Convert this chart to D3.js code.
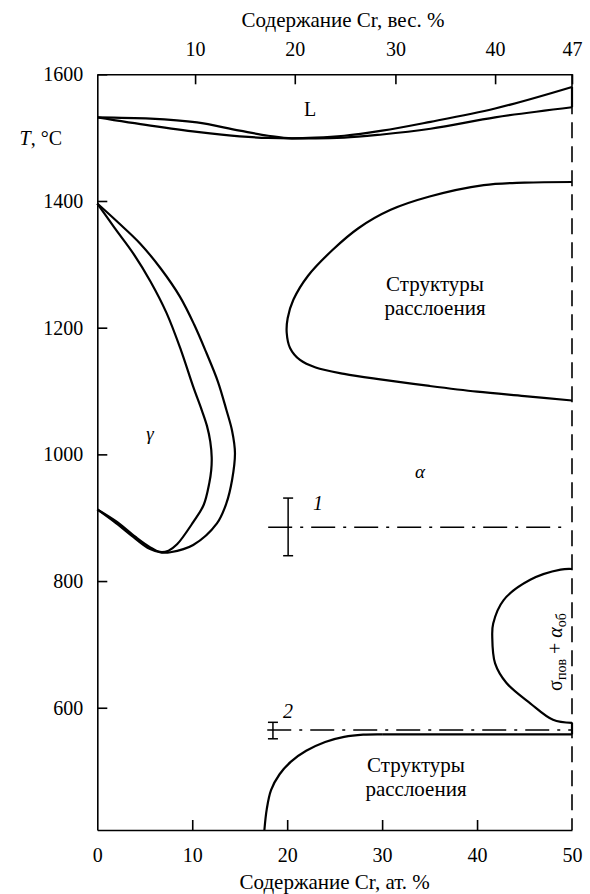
<!DOCTYPE html>
<html>
<head>
<meta charset="utf-8">
<script src="https://cdn.jsdelivr.net/npm/d3@7"></script>
<style>
  body { margin: 0; background: #fff; }
  .curve { fill: none; stroke: #000; stroke-width: 2.2; stroke-linejoin: round; }
  .axis path, .axis line { stroke: #000; stroke-width: 1.6; }
</style>
</head>
<body>
<div id="chart"></div>
<script>
// Fe-Cr diagram: x in at.% Cr, y in deg C
const FONT = "'Liberation Serif', 'Times New Roman', Times, 'DejaVu Serif', serif";

// bottom axis (at.%)
const bottomTicks = [0, 10, 20, 30, 40, 50];
// top axis (wt.%) labels and where they sit in at.%
const topTickLabels = [10, 20, 30, 40, 47];
const topTickPos = [10.3, 20.8, 31.4, 41.9, 50];
const leftTicks = [600, 800, 1000, 1200, 1400, 1600];

// curves as [at.%, T] pairs
const liquidus = [[0, 1532], [5.6, 1530], [10.5, 1524], [15, 1511], [18, 1503], [20.5, 1499],
  [23, 1500], [26, 1503], [30, 1511], [35.1, 1525], [41.9, 1546], [50, 1580]];
const solidus = [[0, 1532], [5.6, 1519], [10.5, 1509], [15, 1502], [18, 1499.5], [20.5, 1499],
  [23, 1499], [26, 1500], [30, 1505], [35.1, 1514], [41.9, 1532], [50, 1548]];
const gapUpper = [[50, 1430], [45, 1429], [40.7, 1425], [35, 1407], [30.9, 1386], [27.5, 1357],
  [24.8, 1323], [22.2, 1282], [20.65, 1244], [20.05, 1215], [19.95, 1192], [20.3, 1168],
  [21.35, 1149], [23, 1137], [26, 1127], [30, 1118], [35, 1108], [40, 1099], [45, 1092], [50, 1085]];
const gammaInner = [[0, 913], [2, 894], [4, 870], [5.5, 854], [6.6, 846], [7.5, 848], [8.4, 858],
  [10.1, 893], [11.2, 920], [11.8, 955], [12.0, 975], [12.05, 995], [11.9, 1020], [11.55, 1045],
  [11.0, 1070], [10.1, 1107], [8.8, 1165], [7.3, 1223], [5.6, 1273], [3.8, 1317], [1.8, 1358], [0, 1396]];
const gammaOuter = [[0, 913], [2, 891], [4, 867], [5.5, 851], [6.8, 845], [7.7, 845.5], [10.1, 857],
  [12.6, 891], [13.6, 923], [14.2, 960], [14.5, 1002], [14.2, 1037], [13.6, 1070], [12.7, 1115],
  [11.5, 1160], [10.2, 1205], [8.7, 1249], [6.7, 1293], [4.5, 1333], [2.2, 1366], [0, 1396]];
const sigmaLoop = [[50, 819], [48.8, 818], [45.6, 802], [42.8, 770], [41.7, 733], [41.6, 712],
  [41.9, 670], [43.1, 639], [45.6, 607], [48, 581], [50, 576]];
const gapLower = [[17.6, 407], [17.85, 440], [18.3, 470], [19.2, 495], [20.4, 515], [22, 532],
  [24, 546], [26, 554], [28, 557.5], [30, 558]];
const rightEdgeSolid = [[[50, 1548], [50, 1580]], [[50, 576], [50, 558]], [[30, 558], [50, 558]]];

// measured lines 1 and 2 with error bars
const lineLabels = ['1', '2'];
const lineT = [885, 565];
const lineFrom = [18, 17.9];
const lineTo = [49.3, 50];
const barX = [20.1, 18.5];
const barLow = [840, 551];
const barHigh = [931, 577];

const width = 590, height = 894;
const svg = d3.select('#chart').append('svg')
  .attr('width', width).attr('height', height)
  .attr('font-family', FONT);

const x = d3.scaleLinear().domain([0, 50]).range([97.3, 572]);
const y = d3.scaleLinear().domain([407, 1600]).range([830, 74.3]);

function styleAxis(g) {
  g.attr('font-family', FONT).attr('font-size', 20);
  g.selectAll('text').attr('font-family', FONT).attr('fill', '#000');
}

// axes
const gBottom = svg.append('g').attr('class', 'axis')
  .attr('transform', `translate(0,${y(407)})`)
  .call(d3.axisBottom(x).tickValues(bottomTicks).tickFormat(d3.format('d'))
    .tickSizeInner(-10).tickSizeOuter(0).tickPadding(18))
  .call(styleAxis);
gBottom.selectAll('.tick line').filter(d => d === 0 || d === 50).remove();

svg.append('g').attr('class', 'axis')
  .attr('transform', `translate(0,${y(1600)})`)
  .call(d3.axisTop(x).tickValues(topTickPos).tickFormat((d, i) => topTickLabels[i])
    .tickSizeInner(-10).tickSizeOuter(0).tickPadding(18))
  .call(styleAxis);

svg.append('g').attr('class', 'axis')
  .attr('transform', `translate(${x(0)},0)`)
  .call(d3.axisLeft(y).tickValues(leftTicks).tickFormat(d3.format('d'))
    .tickSizeInner(-10).tickSizeOuter(0).tickPadding(14))
  .call(styleAxis);

// dashed right border
svg.append('line')
  .attr('x1', x(50)).attr('x2', x(50))
  .attr('y1', y(1600)).attr('y2', y(407))
  .attr('stroke', '#000').attr('stroke-width', 1.6)
  .attr('stroke-dasharray', '16,8');

// axis titles
svg.append('text').attr('x', 343).attr('y', 26.5).attr('text-anchor', 'middle')
  .attr('font-size', 21).text('Содержание Cr, вес. %');
svg.append('text').attr('x', x(25)).attr('y', 889).attr('text-anchor', 'middle')
  .attr('font-size', 21).text('Содержание Cr, ат. %');
const tLabel = svg.append('text').attr('x', 62).attr('y', 145).attr('text-anchor', 'end')
  .attr('font-size', 20);
tLabel.append('tspan').attr('font-style', 'italic').text('T');
tLabel.append('tspan').text(', °C');

// curves
const smoothX = d3.line().x(d => x(d[0])).y(d => y(d[1])).curve(d3.curveMonotoneX);
const smooth = d3.line().x(d => x(d[0])).y(d => y(d[1])).curve(d3.curveCatmullRom.alpha(0.5));
const straight = d3.line().x(d => x(d[0])).y(d => y(d[1]));

[liquidus, solidus].forEach(c => {
  svg.append('path').attr('class', 'curve').attr('d', smoothX(c));
});
[gapUpper, gammaInner, gammaOuter, sigmaLoop, gapLower].forEach(c => {
  svg.append('path').attr('class', 'curve').attr('d', smooth(c));
});
rightEdgeSolid.forEach(c => {
  svg.append('path').attr('class', 'curve').attr('d', straight(c));
});

// dash-dot lines and error bars
lineT.forEach((t, i) => {
  svg.append('line')
    .attr('x1', x(lineFrom[i])).attr('x2', x(lineTo[i]))
    .attr('y1', y(t)).attr('y2', y(t))
    .attr('stroke', '#000').attr('stroke-width', 1.5)
    .attr('stroke-dasharray', '24,8,3,8');
  const bx = x(barX[i]);
  svg.append('line').attr('x1', bx).attr('x2', bx)
    .attr('y1', y(barLow[i])).attr('y2', y(barHigh[i]))
    .attr('stroke', '#000').attr('stroke-width', 1.5);
  [barLow[i], barHigh[i]].forEach(v => {
    svg.append('line').attr('x1', bx - 5).attr('x2', bx + 5)
      .attr('y1', y(v)).attr('y2', y(v))
      .attr('stroke', '#000').attr('stroke-width', 1.5);
  });
});

// region labels
svg.append('text').attr('x', 318).attr('y', 510).attr('text-anchor', 'middle')
  .attr('font-size', 20).attr('font-style', 'italic').text(lineLabels[0]);
svg.append('text').attr('x', 288).attr('y', 718).attr('text-anchor', 'middle')
  .attr('font-size', 20).attr('font-style', 'italic').text(lineLabels[1]);

svg.append('text').attr('x', 310).attr('y', 116).attr('text-anchor', 'middle')
  .attr('font-size', 20).text('L');
svg.append('text').attr('x', 150).attr('y', 440).attr('text-anchor', 'middle')
  .attr('font-size', 19).attr('font-style', 'italic').text('γ');
svg.append('text').attr('x', 420).attr('y', 478).attr('text-anchor', 'middle')
  .attr('font-size', 19).attr('font-style', 'italic').text('α');

const regionText = [['Структуры', 'расслоения', 435, 291], ['Структуры', 'расслоения', 416, 772]];
regionText.forEach(r => {
  const t = svg.append('text').attr('text-anchor', 'middle').attr('font-size', 21);
  t.append('tspan').attr('x', r[2]).attr('y', r[3]).text(r[0]);
  t.append('tspan').attr('x', r[2]).attr('y', r[3] + 24).text(r[1]);
});

// sigma + alpha label, rotated
const sg = svg.append('text').attr('transform', 'translate(562,652) rotate(-90)')
  .attr('text-anchor', 'middle').attr('font-size', 20);
sg.append('tspan').text('σ');
sg.append('tspan').attr('font-size', 14).attr('dy', 4).text('пов');
sg.append('tspan').attr('dy', -4).text(' + ');
sg.append('tspan').attr('font-style', 'italic').text('α');
sg.append('tspan').attr('font-size', 14).attr('dy', 4).text('об');
</script>
</body>
</html>
